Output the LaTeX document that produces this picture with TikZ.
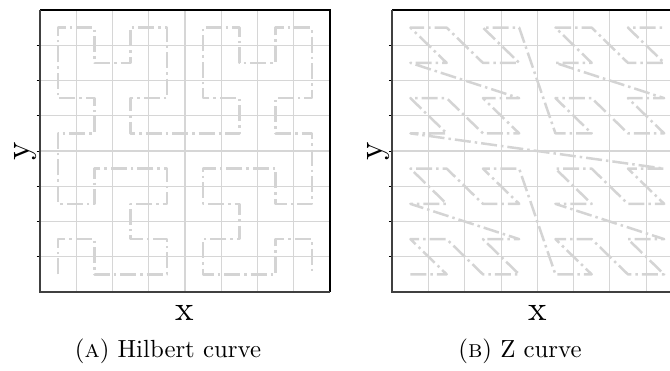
\documentclass[tikz,border=0pt]{standalone}
\definecolor{gridc}{RGB}{214,214,214}
\definecolor{curvec}{RGB}{212,212,212}
\begin{document}
\begin{tikzpicture}[x=1pt,y=-1pt,
  gridline/.style={draw=gridc,line width=1.1pt},
  spine/.style={draw=black,line width=1.2pt},
  spinelb/.style={draw=black!75,line width=1.8pt},
  tickmark/.style={draw=black,line width=1pt},
  curve/.style={draw=curvec,line width=2.5pt,line join=round,
    dash pattern=on 16pt off 4pt on 2.5pt off 4pt},
  axlabel/.style={inner sep=0pt,anchor=base},
  captext/.style={inner sep=0pt,anchor=base}]
\useasboundingbox (0,0) rectangle (670,370);
\clip (0,0) rectangle (670,370);

% ---------- panel A: Hilbert ----------
\begin{scope}[shift={(40,10)}]
  \foreach \i in {1,...,7} \draw[gridline] (\i*36.25,0) -- (\i*36.25,282);
  \foreach \j in {1,...,7} \draw[gridline] (0,\j*35.25) -- (290,\j*35.25);
  \foreach \j in {1,...,7} \draw[tickmark] (-3.5,\j*35.25) -- (0,\j*35.25);
  \begin{scope}[shift={(18.125,264.375)},x=36.25pt,y=35.25pt]
    \draw[curve] (0,0) -- (0,1) -- (1,1) -- (1,0) -- (2,0) -- (3,0) -- (3,1) -- (2,1)
      -- (2,2) -- (3,2) -- (3,3) -- (2,3) -- (1,3) -- (1,2) -- (0,2) -- (0,3)
      -- (0,4) -- (1,4) -- (1,5) -- (0,5) -- (0,6) -- (0,7) -- (1,7) -- (1,6)
      -- (2,6) -- (2,7) -- (3,7) -- (3,6) -- (3,5) -- (2,5) -- (2,4) -- (3,4)
      -- (4,4) -- (5,4) -- (5,5) -- (4,5) -- (4,6) -- (4,7) -- (5,7) -- (5,6)
      -- (6,6) -- (6,7) -- (7,7) -- (7,6) -- (7,5) -- (6,5) -- (6,4) -- (7,4)
      -- (7,3) -- (7,2) -- (6,2) -- (6,3) -- (5,3) -- (4,3) -- (4,2) -- (5,2)
      -- (5,1) -- (4,1) -- (4,0) -- (5,0) -- (6,0) -- (6,1) -- (7,1) -- (7,0);
  \end{scope}
  \draw[spine] (0,0) -- (290,0) -- (290,282);
  \draw[spinelb] (0,0) -- (0,282) -- (290,282);
  \node[axlabel] (xa) at (145,310) {\scalebox{3.5}{x}};
  \node[axlabel,rotate=90] (ya) at (-10,141) {\scalebox{3.5}{y}};
\end{scope}

% ---------- panel B: Z curve ----------
\begin{scope}[shift={(392.3,10)}]
  \foreach \i in {1,...,7} \draw[gridline] (\i*36.25,0) -- (\i*36.25,282);
  \foreach \j in {1,...,7} \draw[gridline] (0,\j*35.25) -- (290,\j*35.25);
  \foreach \j in {1,...,7} \draw[tickmark] (-3.5,\j*35.25) -- (0,\j*35.25);
  \begin{scope}[shift={(18.125,264.375)},x=36.25pt,y=35.25pt]
    \draw[curve] (0,0) -- (1,0) -- (0,1) -- (1,1) -- (2,0) -- (3,0) -- (2,1) -- (3,1)
      -- (0,2) -- (1,2) -- (0,3) -- (1,3) -- (2,2) -- (3,2) -- (2,3) -- (3,3)
      -- (4,0) -- (5,0) -- (4,1) -- (5,1) -- (6,0) -- (7,0) -- (6,1) -- (7,1)
      -- (4,2) -- (5,2) -- (4,3) -- (5,3) -- (6,2) -- (7,2) -- (6,3) -- (7,3)
      -- (0,4) -- (1,4) -- (0,5) -- (1,5) -- (2,4) -- (3,4) -- (2,5) -- (3,5)
      -- (0,6) -- (1,6) -- (0,7) -- (1,7) -- (2,6) -- (3,6) -- (2,7) -- (3,7)
      -- (4,4) -- (5,4) -- (4,5) -- (5,5) -- (6,4) -- (7,4) -- (6,5) -- (7,5)
      -- (4,6) -- (5,6) -- (4,7) -- (5,7) -- (6,6) -- (7,6) -- (6,7) -- (7,7);
  \end{scope}
  \draw[spine] (0,0) -- (290,0) -- (290,282);
  \draw[spinelb] (0,0) -- (0,282) -- (290,282);
  \node[axlabel] (xb) at (145,310) {\scalebox{3.5}{x}};
  \node[axlabel,rotate=90] (yb) at (-10,141) {\scalebox{3.5}{y}};
\end{scope}

% ---------- captions ----------
\node[captext] (capa) at (168,357) {\scalebox{2.48}{(\textsc{a})\ Hilbert curve}};
\node[captext] (capb) at (520,357) {\scalebox{2.48}{(\textsc{b})\ Z curve}};
\end{tikzpicture}
\end{document}
